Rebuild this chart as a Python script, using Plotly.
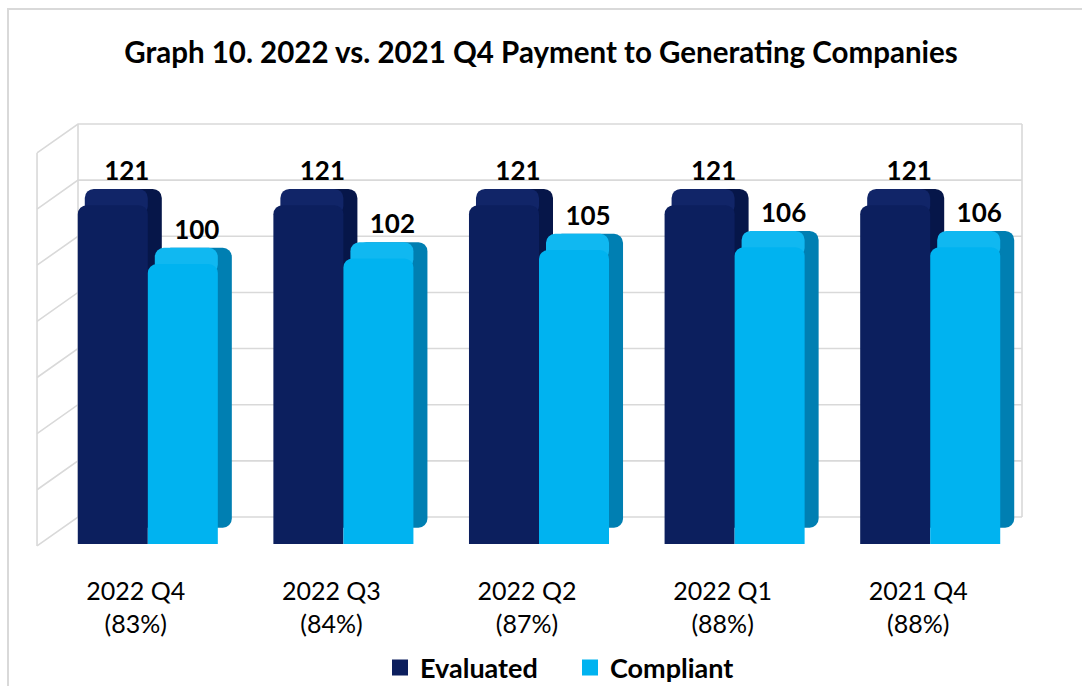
import plotly.graph_objects as go

# ---------------- data ----------------
quarters = ["2022 Q4", "2022 Q3", "2022 Q2", "2022 Q1", "2021 Q4"]
compliance_pct = [83, 84, 87, 88, 88]
evaluated = [121, 121, 121, 121, 121]
compliant = [100, 102, 105, 106, 106]
axis_ticks = [0, 20, 40, 60, 80, 100, 120, 140]
series_names = ["Evaluated", "Compliant"]

# ---------------- styling ----------------
W, H = 1082, 686
FONT = "Lato"
DARK, DARK_SIDE, DARK_TOP = "#0C1F5E", "#061649", "#112568"
LIGHT, LIGHT_SIDE, LIGHT_TOP = "#00B3F0", "#007FB2", "#10B8F1"
GRID = "#D9D9D9"

tick_text = [f"{q}<br>({p}%)" for q, p in zip(quarters, compliance_pct)]
xs = list(range(len(quarters)))

BAR_W = 0.358          # front face width (category units)
DX = 0.0716            # 3D depth shift to the right (category units)
DY = 5.8               # 3D depth shift upward (value units)


def px_x(p):
    return p / W


def px_y(p):
    return 1 - p / H


fig = go.Figure()

# ---- 3D box walls (back wall + left side wall), on axes x/y ----
SIDE_X = -0.0434       # side wall front edge, in back-wall width units
SIDE_DY = 10.3         # side wall front edge drop, in value units
lo, hi = axis_ticks[0], axis_ticks[-1]
wx, wy = [], []
for v in axis_ticks:
    wx += [SIDE_X, 0, 1, None]
    wy += [v - SIDE_DY, v, v, None]
wx += [0, 0, None, 1, 1, None, SIDE_X, SIDE_X]
wy += [lo, hi, None, lo, hi, None, lo - SIDE_DY, hi - SIDE_DY]
fig.add_trace(go.Scatter(x=wx, y=wy, mode="lines", line=dict(color=GRID, width=1.6),
                         showlegend=False, hoverinfo="skip", xaxis="x", yaxis="y"))


def add_series(vals, offset, face, side, top, name):
    n = len(vals)
    # depth block (side face)
    fig.add_trace(go.Bar(x=xs, y=vals, base=[DY] * n, offset=offset + DX, width=BAR_W,
                         marker=dict(color=side, cornerradius=9, line=dict(width=0)),
                         text=vals, texttemplate="%{y}", textposition="outside",
                         textfont=dict(family=FONT, size=26, color="black", weight="bold"),
                         cliponaxis=False, showlegend=False, hoverinfo="skip",
                         xaxis="x2", yaxis="y2"))
    # top face (extends down behind the rounded front corners)
    fig.add_trace(go.Bar(x=xs, y=[DY * 1.6] * n, base=[v - DY * 0.6 for v in vals],
                         offset=offset + DX * 0.5, width=BAR_W - DX * 0.5,
                         marker=dict(color=top, cornerradius=9, line=dict(width=0)),
                         showlegend=False, hoverinfo="skip", xaxis="x2", yaxis="y2"))
    # front face
    fig.add_trace(go.Bar(x=xs, y=vals, offset=offset, width=BAR_W, name=name,
                         marker=dict(color=face, cornerradius=9, line=dict(width=0)),
                         showlegend=False, xaxis="x2", yaxis="y2"))


add_series(evaluated, -BAR_W, DARK, DARK_SIDE, DARK_TOP, series_names[0])
add_series(compliant, 0.0, LIGHT, LIGHT_SIDE, LIGHT_TOP, series_names[1])

# legend entries
for nm, col in zip(series_names, [DARK, LIGHT]):
    fig.add_trace(go.Scatter(x=[None], y=[None], mode="markers", name=nm,
                             marker=dict(symbol="square", size=17, color=col,
                                         line=dict(width=0)),
                             xaxis="x2", yaxis="y2"))

# back-wall axis geometry: back wall spans px 78..1022 horizontally, value lo..hi at px 517..124
PXU_X = 1022 - 78
PXU_Y = (517 - 124) / (hi - lo)
xr = [SIDE_X - 0.005, 1.005]
yr = [lo - SIDE_DY - 1.5, hi + 1.0]
xdom = [px_x(78 + xr[0] * PXU_X), px_x(78 + xr[1] * PXU_X)]
ydom = [px_y(517 + (lo - yr[0]) * PXU_Y), px_y(124 - (yr[1] - hi) * PXU_Y)]

fig.update_layout(
    width=W, height=H,
    margin=dict(l=0, r=0, t=0, b=0, autoexpand=False),
    paper_bgcolor="white", plot_bgcolor="rgba(0,0,0,0)",
    font=dict(family=FONT, color="black"),
    title=dict(text="<b>Graph 10. 2022 vs. 2021 Q4 Payment to Generating Companies</b>",
               x=0.5, xanchor="center", y=px_y(53), yanchor="middle",
               font=dict(family=FONT, size=29.5, color="black")),
    barmode="overlay",
    showlegend=True,
    legend=dict(orientation="h", x=px_x(380), xanchor="left", y=px_y(668), yanchor="middle",
                font=dict(family=FONT, size=27, color="black", weight="bold"),
                entrywidth=145, bgcolor="rgba(0,0,0,0)", traceorder="normal"),
    xaxis=dict(domain=xdom, range=xr, visible=False, fixedrange=True),
    yaxis=dict(domain=ydom, range=yr, visible=False, fixedrange=True),
    xaxis2=dict(domain=[px_x(50), px_x(1028)], range=[-0.5, len(xs) - 0.5], anchor="y2",
                tickvals=xs, ticktext=tick_text, showgrid=False, zeroline=False,
                showline=False, ticks="", ticklabelshift=-12, ticklabelstandoff=30,
                tickfont=dict(family=FONT, size=25, color="black"), fixedrange=True,
                automargin=False),
    yaxis2=dict(domain=[px_y(544), px_y(152)], range=[lo, hi],
                anchor="x2", showgrid=False, zeroline=False, showticklabels=False,
                showline=False, ticks="", fixedrange=True),
    shapes=[dict(type="rect", xref="paper", yref="paper",
                 x0=px_x(8), y0=-0.05, x1=1.05, y1=px_y(9),
                 line=dict(color=GRID, width=2), fillcolor="rgba(0,0,0,0)", layer="below")],
)

fig.write_html("out.html", config={"displayModeBar": False},
               post_script="document.body.style.margin='0';")
